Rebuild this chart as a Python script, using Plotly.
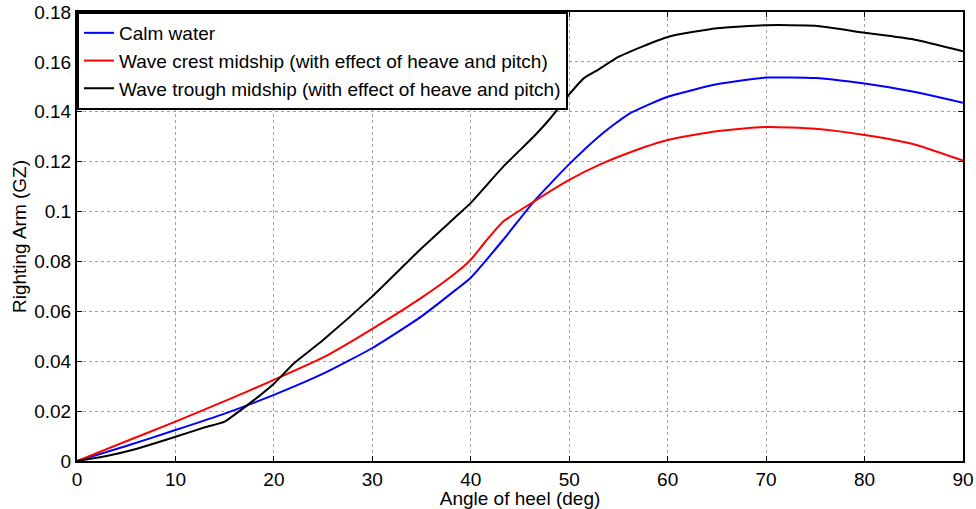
import plotly.graph_objects as go

calm_x = [0, 5, 10, 15, 20, 25, 30, 35, 38.5, 40, 43.3, 46.4, 50, 53.2, 56, 60, 65, 70, 75, 80, 85, 90]
calm_y = [0, 0.006, 0.0124, 0.019, 0.0265, 0.035, 0.0453, 0.058, 0.0687, 0.0735, 0.0887, 0.104, 0.119,
          0.1307, 0.139, 0.146, 0.151, 0.1537, 0.1535, 0.1513, 0.148, 0.1436]

crest_x = [0, 5, 10, 15, 20, 25, 30, 35, 38.5, 40, 41.5, 43.3, 46.4, 50, 53.2, 56, 60, 65, 70, 75, 80, 85, 90]
crest_y = [0, 0.0079, 0.0158, 0.024, 0.0325, 0.0415, 0.053, 0.0655, 0.0755, 0.0807, 0.088, 0.096, 0.104,
           0.1127, 0.119, 0.1235, 0.1287, 0.1322, 0.1339, 0.1332, 0.1307, 0.127, 0.1204]

trough_x = [0, 3, 6, 10, 13, 15, 16.5, 18, 20, 22, 25, 30, 35, 38.5, 40, 43.3, 46.5, 48, 50, 51.5, 53, 55,
            60, 65, 70, 75, 80, 85, 90]
trough_y = [0, 0.002, 0.0048, 0.0097, 0.0135, 0.0158, 0.020, 0.0245, 0.031, 0.039, 0.0485, 0.066, 0.0853,
            0.098, 0.1035, 0.118, 0.1305, 0.137, 0.147, 0.1535, 0.157, 0.162, 0.170, 0.1735, 0.1747,
            0.1745, 0.1717, 0.169, 0.1643]

x_ticks = [0, 10, 20, 30, 40, 50, 60, 70, 80, 90]
y_ticks = [0, 0.02, 0.04, 0.06, 0.08, 0.1, 0.12, 0.14, 0.16, 0.18]
y_tick_text = ["0", "0.02", "0.04", "0.06", "0.08", "0.1", "0.12", "0.14", "0.16", "0.18"]

font = "Liberation Sans, Arial, sans-serif"

fig = go.Figure()
line_common = dict(width=2, shape="spline", smoothing=0.5)
fig.add_trace(go.Scatter(x=calm_x, y=calm_y, mode="lines", name="Calm water",
                         line=dict(color="#0000ff", **line_common)))
fig.add_trace(go.Scatter(x=crest_x, y=crest_y, mode="lines",
                         name="Wave crest midship (with effect of heave and pitch)",
                         line=dict(color="#ff0000", **line_common)))
fig.add_trace(go.Scatter(x=trough_x, y=trough_y, mode="lines",
                         name="Wave trough midship (with effect of heave and pitch)",
                         line=dict(color="#000000", **line_common)))

axis_common = dict(showline=True, linecolor="black", linewidth=2, mirror="ticks",
                   ticks="inside", ticklen=5, tickcolor="black", tickwidth=1,
                   showgrid=True, gridcolor="#a0a0a0", griddash="dot", gridwidth=1,
                   zeroline=False, automargin=False,
                   tickfont=dict(size=19, color="black", family=font))

fig.update_layout(
    width=976, height=509,
    margin=dict(l=77, r=13, t=12, b=48),
    paper_bgcolor="white", plot_bgcolor="white",
    font=dict(family=font, color="black"),
    xaxis=dict(range=[0, 90], tickvals=x_ticks,
               title=dict(text="Angle of heel (deg)", font=dict(size=19), standoff=4),
               **axis_common),
    yaxis=dict(range=[0, 0.18], tickvals=y_ticks, ticktext=y_tick_text,
               title=dict(text="Righting Arm (GZ)", font=dict(size=19), standoff=3),
               **axis_common),
    legend=dict(x=0.0, y=1.0, xanchor="left", yanchor="top",
                bordercolor="black", borderwidth=2, bgcolor="white",
                font=dict(size=19, family=font, color="black"),
                tracegroupgap=0, itemwidth=30),
    showlegend=True,
)

fig.write_html("out.html")
